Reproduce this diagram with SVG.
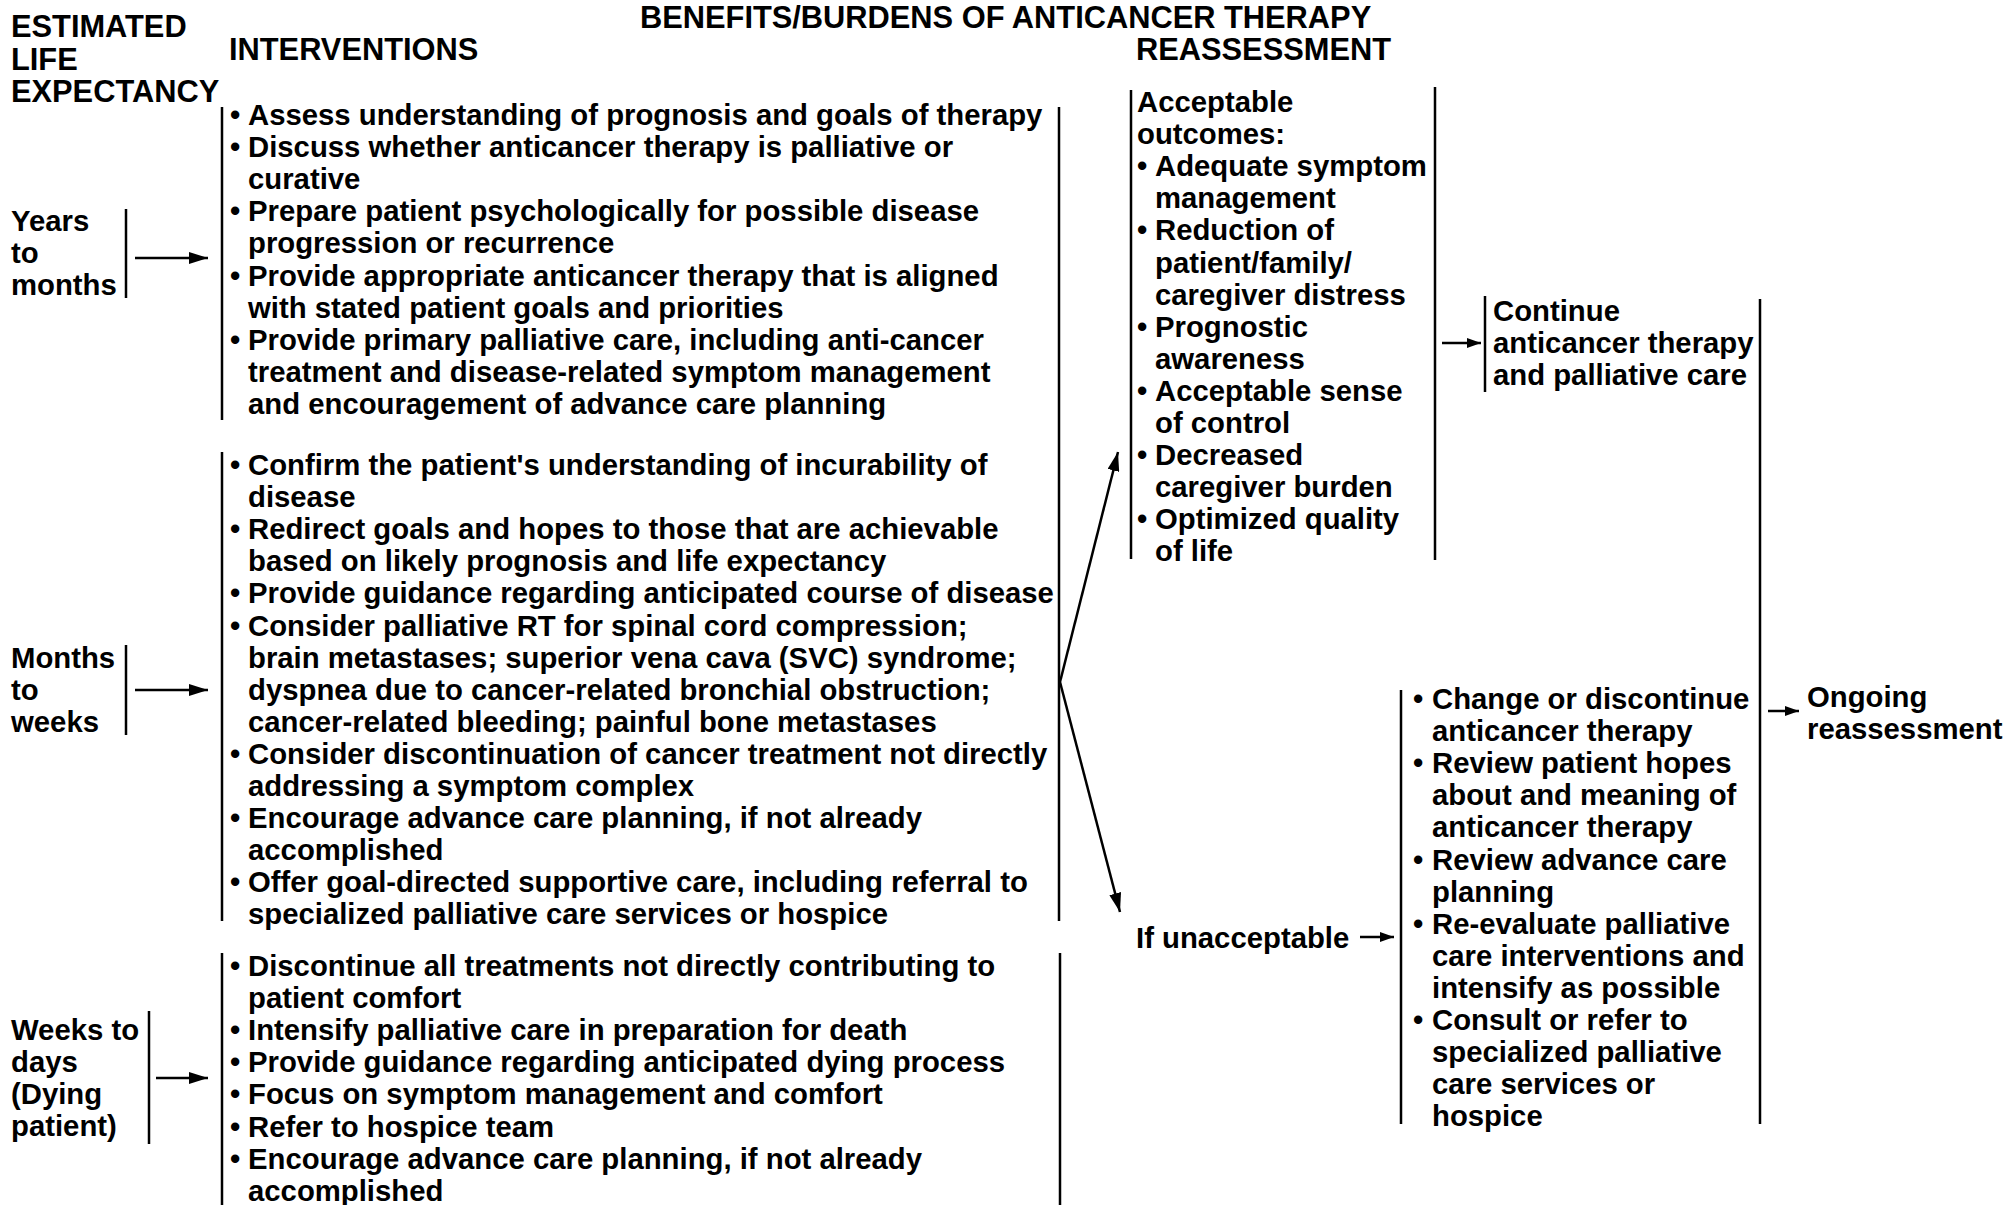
<svg xmlns="http://www.w3.org/2000/svg" width="2015" height="1205" viewBox="0 0 2015 1205">
<style>
text{font-family:"Liberation Sans",Arial,Helvetica,sans-serif;font-weight:bold;fill:#000}
.t{font-size:29.3px}
.h{font-size:30.8px}
.v{stroke:#000;stroke-width:2.5;fill:none}
.c{stroke:#000;stroke-width:2.5;fill:none}
</style>
<defs>
<marker id="ab" markerUnits="userSpaceOnUse" markerWidth="19" markerHeight="12" refX="19" refY="6" orient="auto"><path d="M0,0 L19,6 L0,12 z" fill="#000"/></marker>
<marker id="as" markerUnits="userSpaceOnUse" markerWidth="14" markerHeight="10" refX="14" refY="5" orient="auto"><path d="M0,0 L14,5 L0,10 z" fill="#000"/></marker>
</defs>
<rect width="2015" height="1205" fill="#fff"/>
<g id="headers">
<text class="h" x="11" y="37">ESTIMATED</text>
<text class="h" x="11" y="69.5">LIFE</text>
<text class="h" x="11" y="102">EXPECTANCY</text>
<text class="h" x="229" y="60">INTERVENTIONS</text>
<text class="h" x="640" y="28">BENEFITS/BURDENS OF ANTICANCER THERAPY</text>
<text class="h" x="1136" y="60">REASSESSMENT</text>
</g>
<g id="years">
<text class="t" x="11" y="231">Years</text>
<text class="t" x="11" y="263">to</text>
<text class="t" x="11" y="295">months</text>
<line class="v" x1="126" y1="209" x2="126" y2="298"/>
</g>
<g id="months">
<text class="t" x="11" y="668">Months</text>
<text class="t" x="11" y="700">to</text>
<text class="t" x="11" y="732">weeks</text>
<line class="v" x1="126" y1="645" x2="126" y2="735"/>
</g>
<g id="weeks">
<text class="t" x="11" y="1040">Weeks to</text>
<text class="t" x="11" y="1072">days</text>
<text class="t" x="11" y="1104">(Dying</text>
<text class="t" x="11" y="1136">patient)</text>
<line class="v" x1="149" y1="1011" x2="149" y2="1144"/>
</g>
<g id="interventions1">
<line class="v" x1="222" y1="107" x2="222" y2="420"/>
<text class="t" x="230" y="125">•</text><text class="t" x="248" y="125">Assess understanding of prognosis and goals of therapy</text>
<text class="t" x="230" y="157.1">•</text><text class="t" x="248" y="157.1">Discuss whether anticancer therapy is palliative or</text>
<text class="t" x="248" y="189.2">curative</text>
<text class="t" x="230" y="221.3">•</text><text class="t" x="248" y="221.3">Prepare patient psychologically for possible disease</text>
<text class="t" x="248" y="253.4">progression or recurrence</text>
<text class="t" x="230" y="285.5">•</text><text class="t" x="248" y="285.5">Provide appropriate anticancer therapy that is aligned</text>
<text class="t" x="248" y="317.6">with stated patient goals and priorities</text>
<text class="t" x="230" y="349.7">•</text><text class="t" x="248" y="349.7">Provide primary palliative care, including anti-cancer</text>
<text class="t" x="248" y="381.8">treatment and disease-related symptom management</text>
<text class="t" x="248" y="413.9">and encouragement of advance care planning</text>
</g>
<g id="interventions2">
<line class="v" x1="222" y1="452" x2="222" y2="921"/>
<text class="t" x="230" y="475">•</text><text class="t" x="248" y="475">Confirm the patient's understanding of incurability of</text>
<text class="t" x="248" y="507.1">disease</text>
<text class="t" x="230" y="539.2">•</text><text class="t" x="248" y="539.2">Redirect goals and hopes to those that are achievable</text>
<text class="t" x="248" y="571.3">based on likely prognosis and life expectancy</text>
<text class="t" x="230" y="603.4">•</text><text class="t" x="248" y="603.4">Provide guidance regarding anticipated course of disease</text>
<text class="t" x="230" y="635.5">•</text><text class="t" x="248" y="635.5">Consider palliative RT for spinal cord compression;</text>
<text class="t" x="248" y="667.6">brain metastases; superior vena cava (SVC) syndrome;</text>
<text class="t" x="248" y="699.7">dyspnea due to cancer-related bronchial obstruction;</text>
<text class="t" x="248" y="731.8">cancer-related bleeding; painful bone metastases</text>
<text class="t" x="230" y="763.9">•</text><text class="t" x="248" y="763.9">Consider discontinuation of cancer treatment not directly</text>
<text class="t" x="248" y="796">addressing a symptom complex</text>
<text class="t" x="230" y="828.1">•</text><text class="t" x="248" y="828.1">Encourage advance care planning, if not already</text>
<text class="t" x="248" y="860.2">accomplished</text>
<text class="t" x="230" y="892.3">•</text><text class="t" x="248" y="892.3">Offer goal-directed supportive care, including referral to</text>
<text class="t" x="248" y="924.4">specialized palliative care services or hospice</text>
<line class="v" x1="1059" y1="107" x2="1059" y2="921"/>
</g>
<g id="interventions3">
<line class="v" x1="222" y1="953" x2="222" y2="1205"/>
<line class="v" x1="1060" y1="953" x2="1060" y2="1205"/>
<text class="t" x="230" y="976">•</text><text class="t" x="248" y="976">Discontinue all treatments not directly contributing to</text>
<text class="t" x="248" y="1008.1">patient comfort</text>
<text class="t" x="230" y="1040.2">•</text><text class="t" x="248" y="1040.2">Intensify palliative care in preparation for death</text>
<text class="t" x="230" y="1072.3">•</text><text class="t" x="248" y="1072.3">Provide guidance regarding anticipated dying process</text>
<text class="t" x="230" y="1104.4">•</text><text class="t" x="248" y="1104.4">Focus on symptom management and comfort</text>
<text class="t" x="230" y="1136.5">•</text><text class="t" x="248" y="1136.5">Refer to hospice team</text>
<text class="t" x="230" y="1168.6">•</text><text class="t" x="248" y="1168.6">Encourage advance care planning, if not already</text>
<text class="t" x="248" y="1200.7">accomplished</text>
</g>
<g id="acceptable">
<line class="v" x1="1131" y1="90" x2="1131" y2="559"/>
<line class="v" x1="1435" y1="87" x2="1435" y2="560"/>
<text class="t" x="1137" y="112">Acceptable</text>
<text class="t" x="1137" y="144.1">outcomes:</text>
<text class="t" x="1137" y="176.2">•</text><text class="t" x="1155" y="176.2">Adequate symptom</text>
<text class="t" x="1155" y="208.3">management</text>
<text class="t" x="1137" y="240.4">•</text><text class="t" x="1155" y="240.4">Reduction of</text>
<text class="t" x="1155" y="272.5">patient/family/</text>
<text class="t" x="1155" y="304.6">caregiver distress</text>
<text class="t" x="1137" y="336.7">•</text><text class="t" x="1155" y="336.7">Prognostic</text>
<text class="t" x="1155" y="368.8">awareness</text>
<text class="t" x="1137" y="400.9">•</text><text class="t" x="1155" y="400.9">Acceptable sense</text>
<text class="t" x="1155" y="433">of control</text>
<text class="t" x="1137" y="465.1">•</text><text class="t" x="1155" y="465.1">Decreased</text>
<text class="t" x="1155" y="497.2">caregiver burden</text>
<text class="t" x="1137" y="529.3">•</text><text class="t" x="1155" y="529.3">Optimized quality</text>
<text class="t" x="1155" y="561.4">of life</text>
</g>
<g id="continue">
<line class="v" x1="1485" y1="296" x2="1485" y2="392"/>
<text class="t" x="1493" y="321">Continue</text>
<text class="t" x="1493" y="353">anticancer therapy</text>
<text class="t" x="1493" y="385">and palliative care</text>
</g>
<g id="unacceptable-label">
<text class="t" x="1136" y="948">If unacceptable</text>
</g>
<g id="unacceptable-actions">
<line class="v" x1="1401" y1="690" x2="1401" y2="1124"/>
<text class="t" x="1413" y="709">•</text><text class="t" x="1432" y="709">Change or discontinue</text>
<text class="t" x="1432" y="741.1">anticancer therapy</text>
<text class="t" x="1413" y="773.2">•</text><text class="t" x="1432" y="773.2">Review patient hopes</text>
<text class="t" x="1432" y="805.3">about and meaning of</text>
<text class="t" x="1432" y="837.4">anticancer therapy</text>
<text class="t" x="1413" y="869.5">•</text><text class="t" x="1432" y="869.5">Review advance care</text>
<text class="t" x="1432" y="901.6">planning</text>
<text class="t" x="1413" y="933.7">•</text><text class="t" x="1432" y="933.7">Re-evaluate palliative</text>
<text class="t" x="1432" y="965.8">care interventions and</text>
<text class="t" x="1432" y="997.9">intensify as possible</text>
<text class="t" x="1413" y="1030">•</text><text class="t" x="1432" y="1030">Consult or refer to</text>
<text class="t" x="1432" y="1062.1">specialized palliative</text>
<text class="t" x="1432" y="1094.2">care services or</text>
<text class="t" x="1432" y="1126.3">hospice</text>
</g>
<g id="ongoing">
<line class="v" x1="1760" y1="299" x2="1760" y2="1124"/>
<text class="t" x="1807" y="707">Ongoing</text>
<text class="t" x="1807" y="739">reassessment</text>
</g>
<g id="connectors">
<line class="c" x1="135" y1="258" x2="208" y2="258" marker-end="url(#ab)"/>
<line class="c" x1="135" y1="690" x2="208" y2="690" marker-end="url(#ab)"/>
<line class="c" x1="156" y1="1078" x2="208" y2="1078" marker-end="url(#ab)"/>
<line class="c" x1="1060" y1="682" x2="1118" y2="452" marker-end="url(#ab)"/>
<line class="c" x1="1060" y1="682" x2="1120" y2="912" marker-end="url(#ab)"/>
<line class="c" x1="1442" y1="343" x2="1481" y2="343" marker-end="url(#as)"/>
<line class="c" x1="1768" y1="711" x2="1799" y2="711" marker-end="url(#as)"/>
<line class="c" x1="1360" y1="937" x2="1394" y2="937" marker-end="url(#as)"/>
</g>
</svg>
